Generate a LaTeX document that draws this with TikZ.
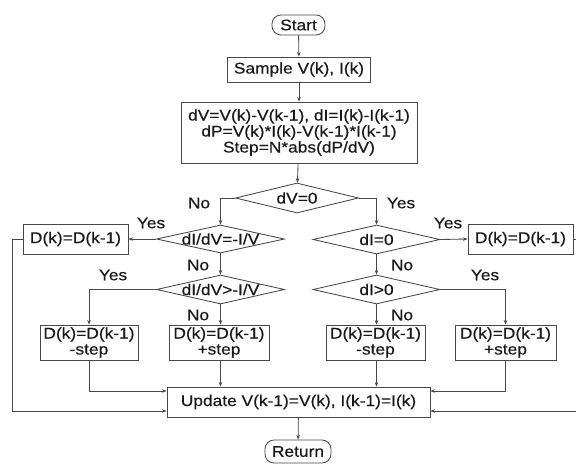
\documentclass[tikz,border=0pt]{standalone}
\usepackage{fontspec}
\setmainfont{Liberation Sans}[FakeStretch=1.12,FakeBold=0.35]
\usetikzlibrary{shapes.geometric,arrows.meta}
\begin{document}
\begin{tikzpicture}[x=1pt,y=-1pt,
  every node/.style={font=\fontsize{15.5}{16}\selectfont, text=black!90},
  ln/.style={draw=black!72, line width=0.85pt},
  arr/.style={ln, -{Stealth[length=4.5pt,width=3.5pt]}},
  box/.style={ln, rectangle, inner sep=0pt, align=center},
  term/.style={ln, rectangle, rounded corners=9pt, inner sep=0pt},
  dia/.style={ln, diamond, inner sep=0pt},
  lbl/.style={inner sep=0pt}]
\clip (0,0) rectangle (576,464);
\fill[white] (0,0) rectangle (576,464);

\node[term, minimum width=53pt, minimum height=20pt] (start) at (298.5,25) {Start};
\node[box, minimum width=143pt, minimum height=25pt] (sample) at (299,69.5) {Sample V(k), I(k)};
\node[box, minimum width=236pt, minimum height=61pt] (calc) at (299,132.5)
  {dV=V(k)-V(k-1), dI=I(k)-I(k-1)\\dP=V(k)*I(k)-V(k-1)*I(k-1)\\Step=N*abs(dP/dV)};

\node[dia, minimum width=123pt, minimum height=30pt] (q0) at (297,198) {};
\node[lbl] (q0t) at (q0) {dV=0};
\node[dia, minimum width=128pt, minimum height=28pt] (q1) at (220.5,239) {};
\node[lbl] (q1t) at (q1) {dI/dV=-I/V};
\node[dia, minimum width=128pt, minimum height=29pt] (q2) at (220.5,289.5) {};
\node[lbl] (q2t) at (q2) {dI/dV>-I/V};
\node[dia, minimum width=127pt, minimum height=29pt] (q3) at (376.5,239.5) {};
\node[lbl] (q3t) at (q3) {dI=0};
\node[dia, minimum width=127pt, minimum height=29pt] (q4) at (376.5,289.5) {};
\node[lbl] (q4t) at (q4) {dI>0};

\node[box, minimum width=105pt, minimum height=30pt] (dL) at (75.5,239) {D(k)=D(k-1)};
\node[box, minimum width=105pt, minimum height=30pt] (dR) at (520.5,239) {D(k)=D(k-1)};

\node[box, minimum width=98pt, minimum height=35pt] (b1) at (89,342.5) {D(k)=D(k-1)\\-step};
\node[box, minimum width=100pt, minimum height=35pt] (b2) at (219,342.5) {D(k)=D(k-1)\\+step};
\node[box, minimum width=99pt, minimum height=35pt] (b3) at (375.5,342.5) {D(k)=D(k-1)\\-step};
\node[box, minimum width=101pt, minimum height=35pt] (b4) at (505.5,342.5) {D(k)=D(k-1)\\+step};

\node[box, minimum width=263pt, minimum height=30pt] (upd) at (298.5,402) {Update V(k-1)=V(k), I(k-1)=I(k)};
\node[term, minimum width=66pt, minimum height=23pt] (ret) at (298,451.5) {Return};

\coordinate (L) at (12,239);
\coordinate (R) at (590,239);

\draw[arr] (start) -- (sample);
\draw[arr] (sample) -- (calc);
\draw[arr] (calc) -- (q0);
\draw[arr] (q0.west) -| (q1.north);
\draw[arr] (q0.east) -| (q3.north);
\draw[arr] (q1.west) -- (dL.east);
\draw[arr] (q1.south) -- (q2.north);
\draw[arr] (q2.west) -| (b1.north);
\draw[arr] (q2.south) -- (q2.south |- b2.north);
\draw[arr] (q3.east) -- (dR.west);
\draw[arr] (q3.south) -- (q4.north);
\draw[arr] (q4.east) -| (b4.north);
\draw[arr] (q4.south) -- (q4.south |- b3.north);
\draw[arr] (b1.south) |- ([yshift=11pt]upd.west);
\draw[arr] (b2.south -| q2.south) -- (q2.south |- upd.north);
\draw[arr] (b3.south -| q4.south) -- (q4.south |- upd.north);
\draw[arr] (b4.south) |- ([yshift=11pt]upd.east);
\draw[arr] (dL.west) -- (L) |- ([yshift=-9pt]upd.west);
\draw[arr] (dR.east) -- (R) |- ([yshift=-9pt]upd.east);
\draw[arr] (upd) -- (ret);

\node[lbl] (n0) at (199,203) {No};
\node[lbl] (y0) at (401,203) {Yes};
\node[lbl] (y1) at (151,223) {Yes};
\node[lbl] (n1) at (198,265) {No};
\node[lbl] (y2) at (113,275) {Yes};
\node[lbl] (n2) at (198,315) {No};
\node[lbl] (y3) at (448,223) {Yes};
\node[lbl] (n3) at (402,265) {No};
\node[lbl] (y4) at (485,275) {Yes};
\node[lbl] (n4) at (402,315) {No};
\end{tikzpicture}
\end{document}
